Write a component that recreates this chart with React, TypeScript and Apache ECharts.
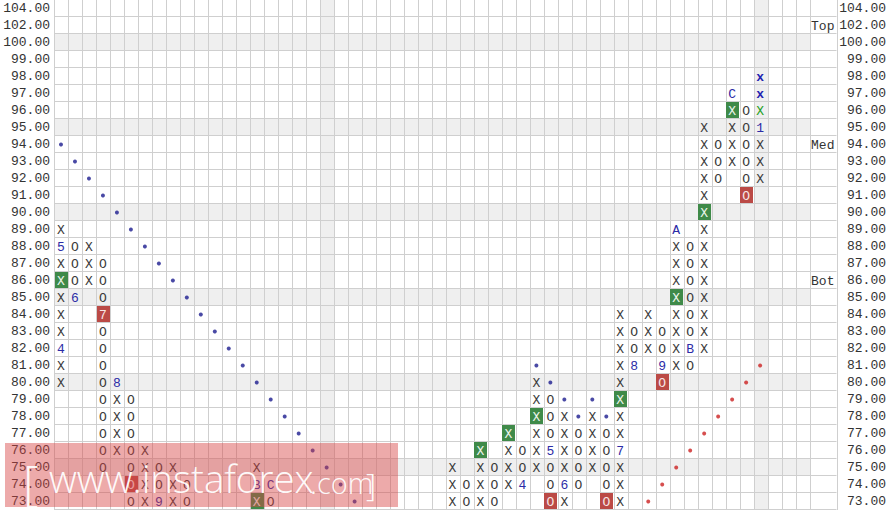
import React, { useEffect, useRef } from "react";
import * as echarts from "echarts";

const MONO = '"Courier New", "Liberation Mono", monospace';

// tick labels (top to bottom)
const rowLabels = [
  "104.00", "102.00", "100.00", "99.00", "98.00", "97.00", "96.00", "95.00", "94.00", "93.00",
  "92.00", "91.00", "90.00", "89.00", "88.00", "87.00", "86.00", "85.00", "84.00", "83.00",
  "82.00", "81.00", "80.00", "79.00", "78.00", "77.00", "76.00", "75.00", "74.00", "73.00",
];

// [column, kind, low, high]
const columns: [number, string, number, number][] = [
  [0, "X", 80, 89], [1, "O", 85, 88], [2, "X", 86, 88], [3, "O", 75, 87], [4, "X", 76, 80],
  [5, "O", 73, 79], [6, "X", 73, 76], [7, "O", 73, 75], [8, "X", 73, 75], [9, "O", 73, 74],
  [14, "X", 73, 75], [15, "O", 73, 74],
  [28, "X", 73, 75], [29, "O", 73, 74], [30, "X", 73, 76], [31, "O", 73, 75], [32, "X", 74, 77],
  [33, "O", 74, 76], [34, "X", 75, 80], [35, "O", 73, 79], [36, "X", 73, 78], [37, "O", 74, 77],
  [38, "X", 75, 78], [39, "O", 73, 77], [40, "X", 73, 84], [41, "O", 81, 83], [42, "X", 82, 84],
  [43, "O", 80, 83], [44, "X", 81, 89], [45, "O", 81, 88], [46, "X", 82, 95], [47, "O", 92, 94],
  [48, "X", 93, 97], [49, "O", 91, 96], [50, "X", 92, 96],
];

// month markers [column, price, label]
const monthLabels: [number, number, string][] = [
  [0, 88, "5"], [0, 82, "4"], [1, 85, "6"], [3, 84, "7"], [4, 80, "8"], [7, 73, "9"],
  [14, 74, "B"], [15, 74, "C"], [33, 74, "4"], [35, 76, "5"], [36, 74, "6"], [40, 76, "7"],
  [41, 81, "8"], [43, 81, "9"], [44, 89, "A"], [45, 82, "B"], [48, 97, "C"], [50, 95, "1"],
];

const buyBoxes: [number, number][] = [
  [0, 86], [14, 73], [30, 76], [32, 77], [34, 78], [40, 79], [44, 85], [46, 90], [48, 96],
];
const sellBoxes: [number, number][] = [[3, 84], [5, 74], [35, 73], [39, 73], [43, 80], [49, 91]];

const currentBox: [number, number][] = [[50, 96]];
const projectedBoxes: [number, number][] = [[50, 97], [50, 98]];

const resistanceDots: [number, number][] = [
  [0, 94], [1, 93], [2, 92], [3, 91], [4, 90], [5, 89], [6, 88], [7, 87], [8, 86], [9, 85],
  [10, 84], [11, 83], [12, 82], [13, 81], [14, 80], [15, 79], [16, 78], [17, 77], [18, 76],
  [19, 75], [20, 74], [21, 73],
  [34, 81], [35, 80], [36, 79], [37, 78], [38, 79], [39, 78],
];
const supportDots: [number, number][] = [
  [42, 73], [43, 74], [44, 75], [45, 76], [46, 77], [47, 78], [48, 79], [49, 80], [50, 81],
];

const sideLabels: [number, string][] = [[102, "Top"], [94, "Med"], [86, "Bot"]];
const shadedRows = [100, 95, 90, 85, 80, 75];
const shadedCols = [19, 50];

const NCOLS = 54;
const CELL_W = 14;
const GRID_LEFT = 54;
const GRID_RIGHT_EDGE = 837;
const X_MAX = (GRID_RIGHT_EDGE - GRID_LEFT) / CELL_W;

const rowIndex = (v: number) => rowLabels.indexOf(v.toFixed(2));

type Cell = { col: number; row: number; text: string; color: string; box?: string; bold?: boolean };

function buildCells(): Cell[] {
  const k = (c: number, v: number) => c + ":" + v;
  const months = new Map(monthLabels.map(([c, v, t]) => [k(c, v), t]));
  const buys = new Set(buyBoxes.map(([c, v]) => k(c, v)));
  const sells = new Set(sellBoxes.map(([c, v]) => k(c, v)));
  const cur = new Set(currentBox.map(([c, v]) => k(c, v)));
  const cells: Cell[] = [];
  for (const [c, kind, lo, hi] of columns) {
    for (let v = lo; v <= hi; v++) {
      const key = k(c, v);
      const m = months.get(key);
      const text = m ?? kind;
      let color = m ? "#2b2ba6" : "#3a3a3a";
      let box: string | undefined;
      if (buys.has(key)) { box = "#3f8a49"; color = "#eef6ee"; }
      if (sells.has(key)) { box = "#bb4a46"; color = "#f7e6e6"; }
      if (cur.has(key)) { color = "#22a022"; }
      cells.push({ col: c, row: rowIndex(v), text, color, box });
    }
  }
  for (const [c, v] of projectedBoxes) {
    cells.push({ col: c, row: rowIndex(v), text: "x", color: "#2222b0", bold: true });
  }
  return cells;
}

const WM_FONT = '"Open Sans", "Noto Sans", sans-serif';

export default function App() {
  const ref = useRef<HTMLDivElement>(null);
  useEffect(() => {
    if (!ref.current) return;
    const chart = echarts.init(ref.current, undefined, { renderer: "svg" });
    const cells = buildCells();

    const bgItems: { kind: string; idx: number }[] = [];
    shadedRows.forEach((v) => bgItems.push({ kind: "row", idx: rowIndex(v) }));
    shadedCols.forEach((c) => bgItems.push({ kind: "col", idx: c }));

    const vLines: number[] = [];
    for (let i = 0; i <= NCOLS; i++) vLines.push(i);
    vLines.push(X_MAX);
    const hLines: number[] = [];
    for (let i = 1; i <= rowLabels.length; i++) hLines.push(i);

    const option: any = {
      animation: false,
      backgroundColor: "#ffffff",
      grid: { left: GRID_LEFT, right: 889 - GRID_RIGHT_EDGE, top: 0, bottom: 2, containLabel: false },
      xAxis: { type: "value", min: 0, max: X_MAX, show: false },
      yAxis: [
        {
          type: "category",
          data: rowLabels,
          inverse: true,
          position: "left",
          axisLine: { show: false },
          axisTick: { show: false },
          splitLine: { show: false },
          axisLabel: { fontFamily: MONO, fontSize: 13, color: "#333", margin: 4 },
        },
        {
          type: "category",
          data: rowLabels,
          inverse: true,
          position: "right",
          axisLine: { show: false },
          axisTick: { show: false },
          splitLine: { show: false },
          axisLabel: { fontFamily: MONO, fontSize: 13, color: "#333", margin: 50, align: "right" },
        },
      ],
      series: [
        {
          type: "custom",
          name: "shade",
          silent: true,
          z: 1,
          data: bgItems.map((b, i) => [i]),
          encode: { x: -1, y: -1 },
          renderItem: (params: any) => {
            const b = bgItems[params.dataIndex];
            const cs = params.coordSys;
            const rowH = cs.height / rowLabels.length;
            if (b.kind === "row") {
              return {
                type: "rect",
                shape: { x: cs.x, y: cs.y + b.idx * rowH, width: NCOLS * CELL_W, height: rowH },
                style: { fill: "#efefef" },
              };
            }
            return {
              type: "rect",
              shape: { x: cs.x + b.idx * CELL_W, y: cs.y, width: CELL_W, height: cs.height },
              style: { fill: "#efefef" },
            };
          },
        },
        {
          type: "custom",
          name: "vlines",
          silent: true,
          z: 2,
          data: vLines.map((v) => [v]),
          encode: { x: -1, y: -1 },
          renderItem: (params: any) => {
            const v = vLines[params.dataIndex];
            const cs = params.coordSys;
            const x = Math.round(cs.x + v * CELL_W) + 0.5;
            return {
              type: "line",
              shape: { x1: x, y1: cs.y, x2: x, y2: cs.y + cs.height },
              style: { stroke: "#cfcfcf", lineWidth: 1 },
            };
          },
        },
        {
          type: "custom",
          name: "hlines",
          silent: true,
          z: 2,
          data: hLines.map((v) => [v]),
          encode: { x: -1, y: -1 },
          renderItem: (params: any) => {
            const r = hLines[params.dataIndex];
            const cs = params.coordSys;
            const rowH = cs.height / rowLabels.length;
            const y = Math.round(cs.y + r * rowH) - 0.5;
            return {
              type: "line",
              shape: { x1: cs.x, y1: y, x2: cs.x + cs.width + 0.5, y2: y },
              style: { stroke: "#cfcfcf", lineWidth: 1 },
            };
          },
        },
        {
          type: "custom",
          name: "boxes",
          z: 3,
          data: cells.map((c) => [c.col + 0.5, c.row]),
          encode: { x: 0, y: 1 },
          renderItem: (params: any, api: any) => {
            const cell = cells[params.dataIndex];
            const p = api.coord([api.value(0), api.value(1)]);
            const p2 = api.coord([api.value(0) + 1, api.value(1) + 1]);
            const w = Math.abs(p2[0] - p[0]);
            const h = Math.abs(p2[1] - p[1]);
            const children: any[] = [];
            if (cell.box) {
              children.push({
                type: "rect",
                shape: { x: Math.round(p[0] - w / 2) + 1, y: Math.round(p[1] - h / 2), width: w - 1, height: h - 1 },
                style: { fill: cell.box },
              });
            }
            children.push({
              type: "text",
              style: {
                text: cell.text,
                x: p[0],
                y: p[1] + 0.5,
                align: "center",
                verticalAlign: "middle",
                fill: cell.color,
                fontSize: 13,
                fontFamily: MONO,
                fontWeight: cell.bold ? "bold" : "normal",
              },
            });
            return { type: "group", children };
          },
        },
        {
          type: "scatter",
          name: "resistance",
          z: 4,
          symbol: "circle",
          symbolSize: 4,
          itemStyle: { color: "#1b1b8e" },
          data: resistanceDots.map(([c, v]) => [c + 0.5, rowIndex(v)]),
        },
        {
          type: "scatter",
          name: "support",
          z: 4,
          symbol: "circle",
          symbolSize: 4,
          itemStyle: { color: "#cc2222" },
          data: supportDots.map(([c, v]) => [c + 0.5, rowIndex(v)]),
        },
        {
          type: "custom",
          name: "side",
          z: 4,
          data: sideLabels.map(([v]) => [NCOLS, rowIndex(v)]),
          encode: { x: 0, y: 1 },
          renderItem: (params: any, api: any) => {
            const p = api.coord([api.value(0), api.value(1)]);
            return {
              type: "text",
              style: {
                text: sideLabels[params.dataIndex][1],
                x: p[0] + 2,
                y: p[1] + 0.5,
                align: "left",
                verticalAlign: "middle",
                fill: "#333",
                fontSize: 13,
                fontFamily: MONO,
              },
            };
          },
        },
      ],
      graphic: [
        {
          type: "rect",
          z: 100,
          silent: true,
          shape: { x: 5, y: 443, width: 393, height: 64 },
          style: { fill: "rgba(214, 66, 66, 0.45)" },
        },
        {
          type: "text",
          z: 101,
          silent: true,
          x: 23,
          y: 481,
          style: {
            text: "[",
            fill: "rgba(255,255,255,0.92)",
            font: "300 48px " + WM_FONT,
            verticalAlign: "middle",
          },
        },
        {
          type: "text",
          z: 101,
          silent: true,
          x: 49,
          y: 478,
          style: {
            text: "www.instaforex",
            fill: "rgba(255,255,255,0.95)",
            font: "300 38.5px " + WM_FONT,
            verticalAlign: "middle",
          },
        },
        {
          type: "text",
          z: 101,
          silent: true,
          x: 310,
          y: 482,
          style: {
            text: ".com",
            fill: "rgba(255,255,255,0.95)",
            font: "300 29px " + WM_FONT,
            verticalAlign: "middle",
          },
        },
        {
          type: "text",
          z: 101,
          silent: true,
          x: 366,
          y: 483,
          style: {
            text: "]",
            fill: "rgba(255,255,255,0.95)",
            font: "300 32px " + WM_FONT,
            verticalAlign: "middle",
          },
        },
      ],
    };
    chart.setOption(option);
    return () => chart.dispose();
  }, []);
  return (
    <div
      ref={ref}
      style={{ position: "fixed", left: 0, top: 0, width: 889, height: 512, background: "#fff" }}
    />
  );
}
